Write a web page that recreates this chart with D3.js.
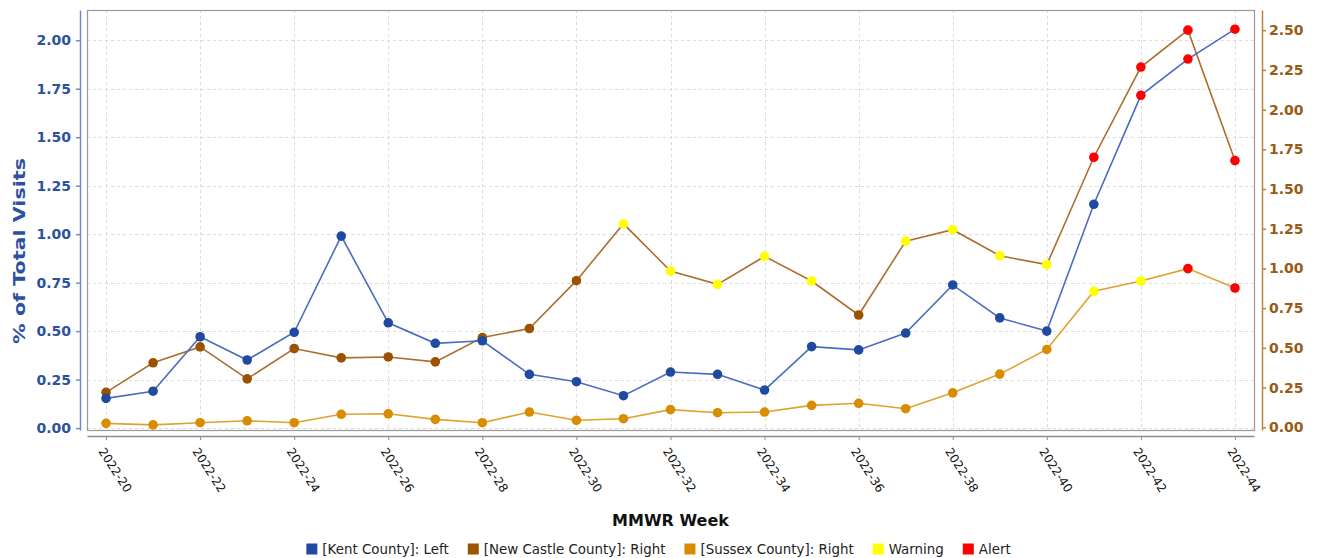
<!DOCTYPE html>
<html>
<head>
<meta charset="utf-8">
<script src="https://cdn.jsdelivr.net/npm/d3@7"></script>
<style>
  html, body { margin: 0; padding: 0; background: #fff; }
  svg { display: block; font-family: "DejaVu Sans", sans-serif; }
</style>
</head>
<body>
<div id="chart"></div>
<script>
// MMWR weeks shown on the category axis
const weeks = ['2022-20','2022-21','2022-22','2022-23','2022-24','2022-25','2022-26','2022-27','2022-28',
  '2022-29','2022-30','2022-31','2022-32','2022-33','2022-34','2022-35','2022-36','2022-37','2022-38',
  '2022-39','2022-40','2022-41','2022-42','2022-43','2022-44'];
const labeledWeeks = weeks.filter((w, i) => i % 2 === 0);

// % of total visits per county
const kent = [0.153, 0.19, 0.471, 0.351, 0.494, 0.99, 0.543, 0.437, 0.45, 0.277, 0.239, 0.167, 0.289,
  0.277, 0.196, 0.42, 0.403, 0.49, 0.738, 0.568, 0.5, 1.154, 1.716, 1.903, 2.057];
const newCastle = [0.22, 0.406, 0.506, 0.305, 0.496, 0.437, 0.443, 0.412, 0.565, 0.622, 0.923, 1.281, 0.984,
  0.9, 1.076, 0.921, 0.707, 1.172, 1.244, 1.08, 1.024, 1.70, 2.268, 2.5, 1.679];
const sussex = [0.025, 0.015, 0.029, 0.041, 0.029, 0.082, 0.085, 0.05, 0.029, 0.096, 0.044, 0.054, 0.111,
  0.092, 0.096, 0.138, 0.151, 0.117, 0.217, 0.335, 0.49, 0.856, 0.921, 0.999, 0.877];

// point status per week: N = normal, W = warning, A = alert
const kentFlags      = 'NNNNNNNNNNNNNNNNNNNNNNAAA'.split('');
const newCastleFlags = 'NNNNNNNNNNNWWWWWNWWWWAAAA'.split('');
const sussexFlags    = 'NNNNNNNNNNNNNNNNNNNNNWWAA'.split('');

// axis ticks and domains
const leftTicks = [0, 0.25, 0.5, 0.75, 1, 1.25, 1.5, 1.75, 2];
const rightTicks = [0, 0.25, 0.5, 0.75, 1, 1.25, 1.5, 1.75, 2, 2.25, 2.5];
const leftDomain = [-0.01, 2.156];
const rightDomain = [-0.017, 2.627];

const legendItems = [
  { label: '[Kent County]: Left', color: '#1f4a9f' },
  { label: '[New Castle County]: Right', color: '#9c5200' },
  { label: '[Sussex County]: Right', color: '#d88c00' },
  { label: 'Warning', color: '#ffff00' },
  { label: 'Alert', color: '#ff0000' }
];

const width = 1317, height = 558;
const box = { left: 87, right: 1254, top: 10, bottom: 430 };
const flagColor = { W: '#ffff00', A: '#ff0000' };
const leftColor = '#2c51a2', rightColor = '#9a5a14';

const svg = d3.select('#chart').append('svg')
  .attr('width', width).attr('height', height)
  .attr('viewBox', `0 0 ${width} ${height}`);

const x = d3.scalePoint().domain(weeks).range([box.left, box.right]).padding(0.405);
const yL = d3.scaleLinear().domain(leftDomain).range([box.bottom, box.top]);
const yR = d3.scaleLinear().domain(rightDomain).range([box.bottom, box.top]);

// grid
const grid = svg.append('g').attr('class', 'grid')
  .attr('stroke', '#dcdcdc').attr('stroke-width', 1).attr('stroke-dasharray', '3,3');
grid.selectAll('line.h').data(leftTicks).join('line').attr('class', 'h')
  .attr('x1', box.left).attr('x2', box.right)
  .attr('y1', d => Math.round(yL(d)) + 0.5).attr('y2', d => Math.round(yL(d)) + 0.5);
grid.selectAll('line.v').data(labeledWeeks).join('line').attr('class', 'v')
  .attr('y1', box.top).attr('y2', box.bottom)
  .attr('x1', d => Math.round(x(d)) + 0.5).attr('x2', d => Math.round(x(d)) + 0.5);

// plot frame
svg.append('rect')
  .attr('x', box.left + 0.5).attr('y', box.top + 0.5)
  .attr('width', box.right - box.left).attr('height', box.bottom - box.top)
  .attr('fill', 'none').attr('stroke', '#9a9a9a').attr('stroke-width', 1.2);

// series, drawn in reverse so Kent ends on top
const series = [
  { values: sussex, flags: sussexFlags, y: yR, line: '#e0a130', point: '#d88c00' },
  { values: newCastle, flags: newCastleFlags, y: yR, line: '#ad6e30', point: '#9c5200' },
  { values: kent, flags: kentFlags, y: yL, line: '#4a6cc0', point: '#1f4a9f' }
];

series.forEach(s => {
  const pts = weeks.map((w, i) => ({ week: w, value: s.values[i], flag: s.flags[i] }));
  const line = d3.line().x(d => x(d.week)).y(d => s.y(d.value));
  svg.append('path').datum(pts)
    .attr('fill', 'none').attr('stroke', s.line).attr('stroke-width', 1.6)
    .attr('d', line);
  svg.append('g').selectAll('circle').data(pts).join('circle')
    .attr('cx', d => x(d.week)).attr('cy', d => s.y(d.value))
    .attr('r', 4.8)
    .attr('fill', d => flagColor[d.flag] || s.point);
});

// left axis
const gL = svg.append('g').attr('transform', 'translate(80,0)')
  .call(d3.axisLeft(yL).tickValues(leftTicks).tickFormat(d3.format('.2f')).tickSize(4).tickSizeOuter(0).tickPadding(5));
gL.select('.domain').attr('stroke', '#6f8cc8').attr('stroke-width', 1.5);
gL.selectAll('.tick line').attr('stroke', '#6f8cc8').attr('stroke-width', 1.5);
gL.selectAll('.tick text').attr('fill', leftColor).attr('font-size', 14).attr('font-weight', 'bold')
  .attr('font-family', '"DejaVu Sans", sans-serif');

// right axis
const gR = svg.append('g').attr('transform', 'translate(1262,0)')
  .call(d3.axisRight(yR).tickValues(rightTicks).tickFormat(d3.format('.2f')).tickSize(4).tickSizeOuter(0).tickPadding(3));
gR.select('.domain').attr('stroke', '#b98344').attr('stroke-width', 1.5);
gR.selectAll('.tick line').attr('stroke', '#b98344').attr('stroke-width', 1.5);
gR.selectAll('.tick text').attr('fill', rightColor).attr('font-size', 14).attr('font-weight', 'bold')
  .attr('font-family', '"DejaVu Sans", sans-serif');

// category axis with rotated labels
const gX = svg.append('g').attr('transform', 'translate(0,436)')
  .call(d3.axisBottom(x).tickValues(labeledWeeks).tickSize(4).tickSizeOuter(0));
gX.select('.domain').attr('stroke', '#8a8a8a').attr('stroke-width', 1.5);
gX.selectAll('.tick line').attr('stroke', '#8a8a8a');
gX.selectAll('.tick text').remove();
gX.selectAll('.tick').append('text')
  .attr('transform', 'translate(-5,13) rotate(57)')
  .attr('text-anchor', 'start').attr('dy', '0.35em')
  .attr('fill', '#111').attr('font-size', 12)
  .attr('font-family', '"DejaVu Sans", sans-serif')
  .text(d => d);

// axis titles
svg.append('text')
  .attr('x', (box.left + box.right) / 2).attr('y', 526)
  .attr('text-anchor', 'middle').attr('font-size', 16).attr('font-weight', 'bold').attr('fill', '#111')
  .text('MMWR Week');
svg.append('text')
  .attr('transform', 'translate(25,251) rotate(-90) scale(1.29,1)')
  .attr('text-anchor', 'middle').attr('font-size', 16).attr('font-weight', 'bold').attr('fill', leftColor)
  .text('% of Total Visits');

// legend
const legend = svg.append('g').attr('class', 'legend');
const items = legend.selectAll('g.item').data(legendItems).join('g').attr('class', 'item');
items.append('rect').attr('width', 11).attr('height', 11).attr('y', -5.5).attr('fill', d => d.color);
items.append('text').attr('x', 16).attr('dy', '0.35em').attr('font-size', 13.4).attr('fill', '#222').text(d => d.label);
let cursor = 0;
items.each(function() {
  const g = d3.select(this);
  g.attr('transform', `translate(${cursor},0)`);
  cursor += 16 + g.select('text').node().getComputedTextLength() + 19;
});
const legendW = cursor - 19;
legend.attr('transform', `translate(${(width - legendW) / 2},549)`);
</script>
</body>
</html>
